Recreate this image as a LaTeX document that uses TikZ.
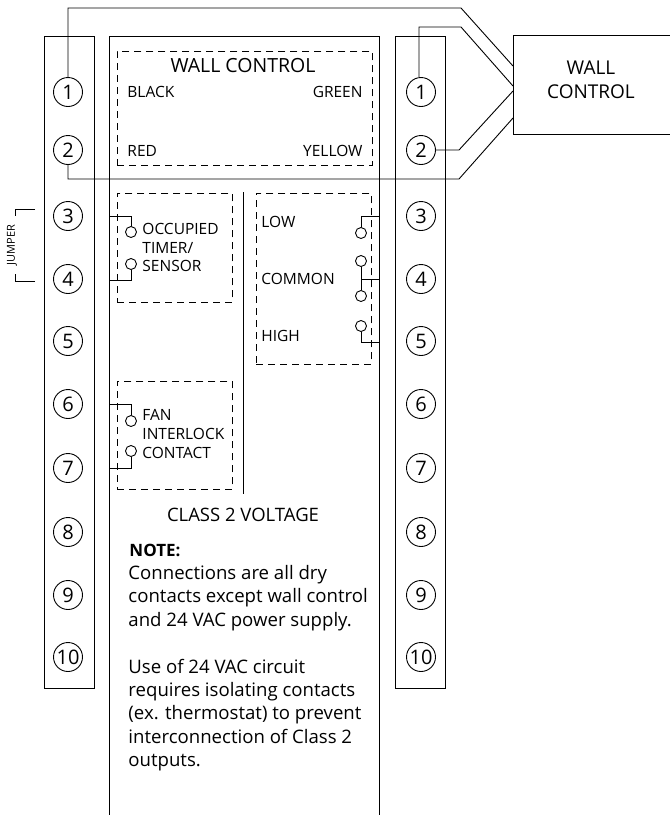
\documentclass[tikz,border=0pt]{standalone}
\usepackage{fontspec}
\setmainfont{Open Sans}
\usetikzlibrary{positioning}
\begin{document}
\begin{tikzpicture}[x=1pt, y=-1pt, line width=0.9pt]
\tikzstyle{term}=[draw, circle, inner sep = 0 pt, minimum size=29pt, font=\fontsize{20}{20}\selectfont]
\tikzstyle{cnt}=[draw, circle, inner sep = 0 pt, minimum size=11pt]
\tikzstyle{dbox}=[draw, dashed, dash pattern=on 7pt off 5pt, line width=0.8pt, inner sep=0pt, anchor=north west]
\tikzstyle{strip}=[draw, inner sep=0pt, anchor=north west, minimum width=50pt, minimum height=652pt]
\tikzstyle{lbl}=[inner sep = 0 pt, anchor=west, font=\fontsize{15.5}{15.5}\selectfont]
\useasboundingbox (0,0) rectangle (670,815);
\node[strip] (LS) at (44,36) {};
\node[strip] (RS) at (395,36) {};
\draw (109,815) -- (109,36) -- (379,36) -- (379,815);
\draw (243,192) -- (243,494);
% terminals
\foreach \i/\y in {1/92, 2/150, 3/216, 4/279, 5/341, 6/404, 7/468, 8/532, 9/595, 10/657}{
\node[term] (L\i) at (68,\y) {\i};
\node[term] (R\i) at (421,\y) {\i};}
% wall control
\node[draw, inner sep=0pt, anchor=north west, minimum width=159pt, minimum height=99pt] (WB) at (513,35) {};
\node[font=\fontsize{19}{24}\selectfont, align=center, inner sep=0pt] (WT) at (591,80) {WALL\\CONTROL};
\coordinate (W1) at (513,66);
\coordinate (W2) at (513,86);
\coordinate (W3) at (513,91);
\coordinate (W4) at (513,118);
\coordinate (A1) at (68,8);
\coordinate (A2) at (461,8);
\coordinate (B1) at (419,27);
\coordinate (B2) at (461,27);
\coordinate (C1) at (459,150);
\coordinate (D1) at (68,179);
\coordinate (D2) at (459,179);
\draw (L1) -- (A1) -- (A2) -- (W1);
\draw (R1.north -| B1) -- (B1) -- (B2) -- (W2);
\draw (R2) -- (C1) -- (W3);
\draw (L2) -- (D1) -- (D2) -- (W4);
% dashed groups
\node[dbox, minimum width=255pt, minimum height=114pt] (GW) at (117,51) {};
\node[dbox, minimum width=115pt, minimum height=109pt] (GO) at (117,193) {};
\node[dbox, minimum width=115pt, minimum height=171pt] (GS) at (256,193) {};
\node[dbox, minimum width=115pt, minimum height=108pt] (GF) at (117,381) {};
\node[font=\fontsize{19.5}{19.5}\selectfont, inner sep=0pt] (WC) at (243,66) {WALL CONTROL};
\node[lbl] (BLK) at (127,92) {BLACK};
\node[lbl, anchor=east] (GRN) at (363,92) {GREEN};
\node[lbl] (RED) at (127,151) {RED};
\node[lbl, anchor=east] (YEL) at (363,151) {YELLOW};
\node[lbl] (OC1) at (142,229) {OCCUPIED};
\node[lbl] (OC2) at (142,248) {TIMER/};
\node[lbl] (OC3) at (142,266) {SENSOR};
\node[lbl] (LOW) at (261,222) {LOW};
\node[lbl] (COM) at (261,279) {COMMON};
\node[lbl] (HGH) at (261,336) {HIGH};
\node[lbl] (FN1) at (142,415) {FAN};
\node[lbl] (FN2) at (142,434) {INTERLOCK};
\node[lbl] (FN3) at (142,453) {CONTACT};
% contacts
\foreach \n/\x/\y in {a/131/232, b/131/264, c/131/421, d/131/451, e/361/233, f/361/261, g/361/296, h/361/326}{
\node[cnt] (\n) at (\x,\y) {};}
\draw (109,216) -| (a);
\draw (109,280) -| (b);
\draw (109,404) -| (c);
\draw (109,468) -| (d);
\draw (379,216) -| (e);
\draw (f) -- (g);
\draw (379,279) -- (361,279);
\draw (379,342) -| (h);
% jumper
\node[rotate=90, font=\fontsize{11}{11}\selectfont, inner sep=0pt] (JMP) at (12,245) {JUMPER};
\draw (35,209) -- (15,209) -- (15,216);
\draw (35,281) -- (15,281) -- (15,274);
% note
\node[font=\fontsize{18.5}{18.5}\selectfont, inner sep=0pt] (CL) at (243,515) {CLASS 2 VOLTAGE};
\node[lbl, font=\fontsize{17}{17}\selectfont\bfseries] (NT) at (129,550) {NOTE:};
\node[inner sep=0pt, anchor=north west, align=left, font=\fontsize{18.6}{23.4}\selectfont] (TX) at (128,565) {Connections are all dry\\contacts except wall control\\and 24 VAC power supply.\\[23.4pt]Use of 24 VAC circuit\\requires isolating contacts\\(ex. thermostat) to prevent\\interconnection of Class 2\\outputs.};
\end{tikzpicture}
\end{document}
